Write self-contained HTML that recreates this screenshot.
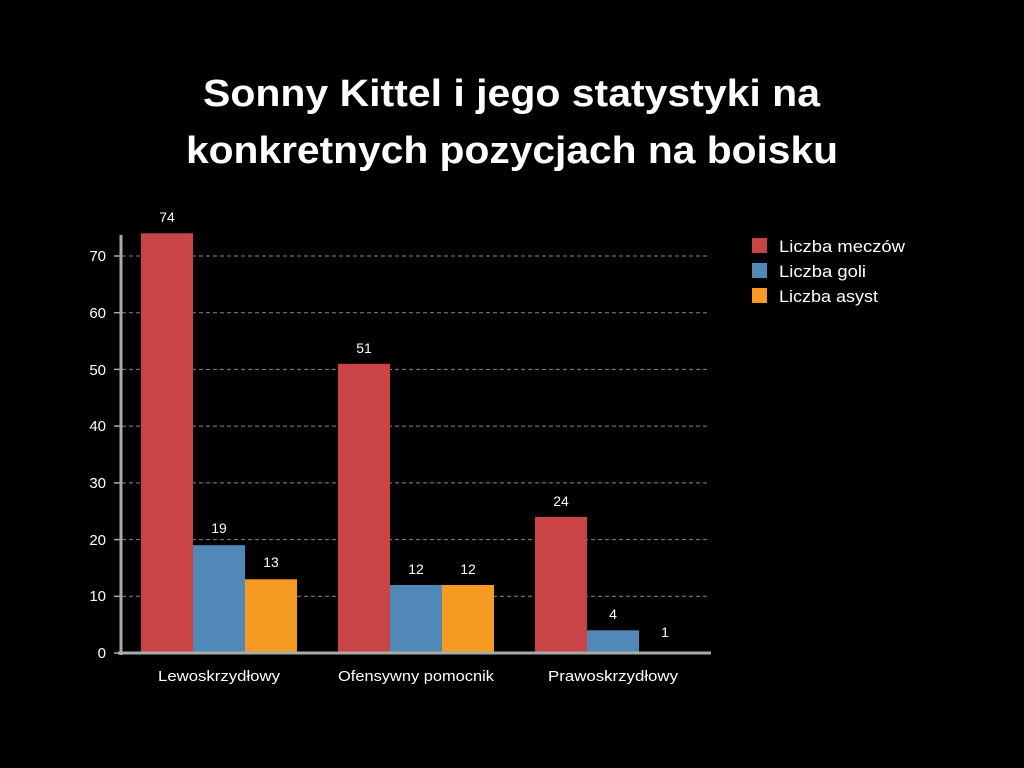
<!DOCTYPE html>
<html><head><meta charset="utf-8"><style>
html,body{margin:0;padding:0;background:#000;}
svg{display:block;font-family:"Liberation Sans",sans-serif;}
</style></head><body>
<svg width="1024" height="768" viewBox="0 0 1024 768">
<rect width="1024" height="768" fill="#000"/>
<text x="203" y="106" fill="#fff" font-size="38" font-weight="bold" textLength="617" lengthAdjust="spacingAndGlyphs">Sonny Kittel i jego statystyki na</text>
<text x="186" y="163" fill="#fff" font-size="38" font-weight="bold" textLength="652" lengthAdjust="spacingAndGlyphs">konkretnych pozycjach na boisku</text>
<g stroke="#888" stroke-dasharray="4,3" stroke-width="1">
<line x1="122" x2="710" y1="596.3" y2="596.3"/>
<line x1="122" x2="710" y1="539.6" y2="539.6"/>
<line x1="122" x2="710" y1="482.9" y2="482.9"/>
<line x1="122" x2="710" y1="426.1" y2="426.1"/>
<line x1="122" x2="710" y1="369.4" y2="369.4"/>
<line x1="122" x2="710" y1="312.7" y2="312.7"/>
<line x1="122" x2="710" y1="256" y2="256"/>
</g>
<g stroke="#aaa" stroke-width="1.5">
<line x1="114" x2="120" y1="653" y2="653"/>
<line x1="114" x2="120" y1="596.3" y2="596.3"/>
<line x1="114" x2="120" y1="539.6" y2="539.6"/>
<line x1="114" x2="120" y1="482.9" y2="482.9"/>
<line x1="114" x2="120" y1="426.1" y2="426.1"/>
<line x1="114" x2="120" y1="369.4" y2="369.4"/>
<line x1="114" x2="120" y1="312.7" y2="312.7"/>
<line x1="114" x2="120" y1="256" y2="256"/>
</g>
<g fill="#fff" font-size="15" text-anchor="end">
<text x="106" y="658">0</text><text x="106" y="601">10</text><text x="106" y="545">20</text>
<text x="106" y="488">30</text><text x="106" y="431">40</text><text x="106" y="375">50</text>
<text x="106" y="318">60</text><text x="106" y="261">70</text>
</g>
<g>
<rect x="141" y="233.3" width="52" height="419.7" fill="#c94444"/>
<rect x="193" y="545.2" width="52" height="107.8" fill="#5088b8"/>
<rect x="245" y="579.3" width="52" height="73.7" fill="#f59a23"/>
<rect x="338" y="363.8" width="52" height="289.2" fill="#c94444"/>
<rect x="390" y="585" width="52" height="68" fill="#5088b8"/>
<rect x="442" y="585" width="52" height="68" fill="#f59a23"/>
<rect x="535" y="516.9" width="52" height="136.1" fill="#c94444"/>
<rect x="587" y="630.3" width="52" height="22.7" fill="#5088b8"/>
</g>
<g fill="#fff" font-size="14" text-anchor="middle">
<text x="167" y="222">74</text><text x="219" y="533">19</text><text x="271" y="567">13</text>
<text x="364" y="353">51</text><text x="416" y="574">12</text><text x="468" y="574">12</text>
<text x="561" y="506">24</text><text x="613" y="619">4</text><text x="665" y="637">1</text>
</g>
<line x1="121" x2="121" y1="235" y2="655" stroke="#aaa" stroke-width="3"/>
<line x1="118" x2="711" y1="653" y2="653" stroke="#aaa" stroke-width="3"/>
<g fill="#fff" font-size="15" lengthAdjust="spacingAndGlyphs">
<text x="158" y="681" textLength="122" lengthAdjust="spacingAndGlyphs">Lewoskrzydłowy</text>
<text x="338" y="681" textLength="156" lengthAdjust="spacingAndGlyphs">Ofensywny pomocnik</text>
<text x="548" y="681" textLength="130" lengthAdjust="spacingAndGlyphs">Prawoskrzydłowy</text>
</g>
<rect x="752" y="238" width="15" height="15" fill="#c94444"/>
<rect x="752" y="263" width="15" height="15" fill="#5088b8"/>
<rect x="752" y="288" width="15" height="15" fill="#f59a23"/>
<g fill="#fff" font-size="17">
<text x="779" y="252" textLength="126" lengthAdjust="spacingAndGlyphs">Liczba meczów</text>
<text x="779" y="277" textLength="87" lengthAdjust="spacingAndGlyphs">Liczba goli</text>
<text x="779" y="302" textLength="99" lengthAdjust="spacingAndGlyphs">Liczba asyst</text>
</g>
</svg>
</body></html>
